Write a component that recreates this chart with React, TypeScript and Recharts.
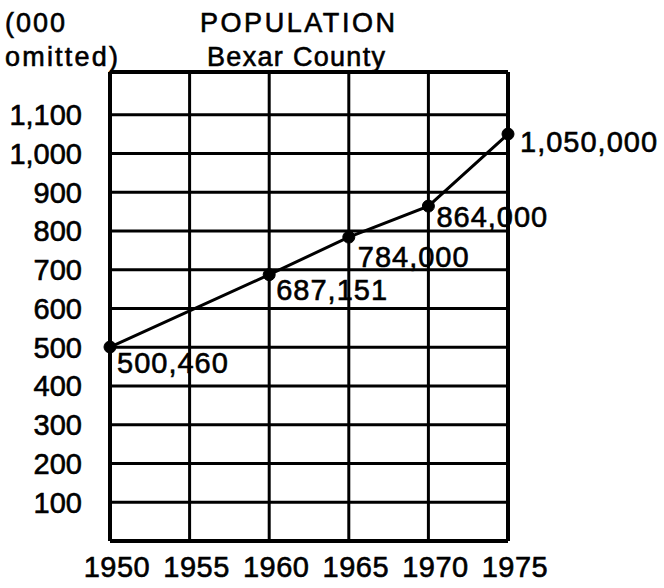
import React from 'react';
import { LineChart, Line, XAxis, YAxis, CartesianGrid, ReferenceLine, LabelList } from 'recharts';

// Tick labels / categories
const xTickYears = [1950, 1955, 1960, 1965, 1970, 1975];
const yTickValues = [0, 100, 200, 300, 400, 500, 600, 700, 800, 900, 1000, 1100];

// Series: population of Bexar County
const pointYears = [1950, 1960, 1965, 1970, 1975];
const population = [500460, 687151, 784000, 864000, 1050000];

const fmt = (n: number) => String(n).replace(/\B(?=(\d{3})+(?!\d))/g, ',');

const data = pointYears.map((year, i) => ({
  year,
  pop: population[i] / 1000,
  label: fmt(population[i]),
}));

const FONT = '"Liberation Sans", Arial, sans-serif';
const INK = { fill: '#000', stroke: '#000', strokeWidth: 0.6 };

// label placement tweaks (per point), styling only
const LABEL_DX = [7, 7, 9, 8, 12];
const LABEL_DY = [26, 25, 30, 21, 18];

const XTick = (props: any) => {
  const { x, y, payload } = props;
  return (
    <text x={x + 7} y={y + 22} textAnchor="middle" {...INK} fontSize={29} fontFamily={FONT} letterSpacing={0.5}>
      {payload.value}
    </text>
  );
};

const YTick = (props: any) => {
  const { x, y, payload } = props;
  if (payload.value === 0) return null;
  return (
    <text x={x} y={y} dy="0.36em" textAnchor="end" {...INK} fontSize={29} fontFamily={FONT}>
      {fmt(payload.value)}
    </text>
  );
};

const PointLabel = (props: any) => {
  const { x, y, index, value } = props;
  return (
    <text
      x={x + (LABEL_DX[index] ?? 8)}
      y={y + (LABEL_DY[index] ?? 24)}
      {...INK}
      fontSize={29}
      fontFamily={FONT}
      letterSpacing={1}
    >
      {value}
    </text>
  );
};

export default function App() {
  return (
    <div style={{ position: 'absolute', left: 0, top: 0, width: 664, height: 588, background: '#fff' }}>
      <LineChart
        width={664}
        height={588}
        data={data}
        margin={{ top: 72, right: 156, bottom: 0, left: 0 }}
      >
        <CartesianGrid stroke="#000" strokeWidth={3} fill="none" />
        <XAxis
          dataKey="year"
          type="number"
          domain={[1950, 1975]}
          ticks={xTickYears}
          tickLine={false}
          axisLine={false}
          tickSize={0}
          tickMargin={14}
          height={47}
          tick={<XTick />}
          interval={0}
        />
        <YAxis
          type="number"
          domain={[0, 1210]}
          ticks={yTickValues}
          tickLine={false}
          axisLine={false}
          tickSize={0}
          tickMargin={28}
          width={110}
          tick={<YTick />}
          interval={0}
        />
        <ReferenceLine y={1210} stroke="#000" strokeWidth={4} />
        <ReferenceLine x={1950} stroke="#000" strokeWidth={4} />
        <ReferenceLine x={1975} stroke="#000" strokeWidth={4} />
        <ReferenceLine y={0} stroke="#000" strokeWidth={4} />
        <Line
          type="linear"
          dataKey="pop"
          stroke="#000"
          strokeWidth={3}
          dot={{ r: 6, fill: '#000', stroke: '#000', strokeWidth: 1 }}
          isAnimationActive={false}
        >
          <LabelList dataKey="label" content={<PointLabel />} />
        </Line>
      </LineChart>
      <svg
        width={664}
        height={80}
        style={{ position: 'absolute', left: 0, top: 0, pointerEvents: 'none' }}
      >
        <text x={5} y={32} fontSize={27} fontFamily={FONT} {...INK} textLength={60} lengthAdjust="spacing">(000</text>
        <text x={200} y={32} fontSize={27} fontFamily={FONT} {...INK} textLength={195} lengthAdjust="spacing">POPULATION</text>
        <text x={5} y={66} fontSize={27} fontFamily={FONT} {...INK} textLength={113} lengthAdjust="spacing">omitted)</text>
        <text x={207} y={66} fontSize={27} fontFamily={FONT} {...INK} textLength={178} lengthAdjust="spacing">Bexar County</text>
      </svg>
    </div>
  );
}
